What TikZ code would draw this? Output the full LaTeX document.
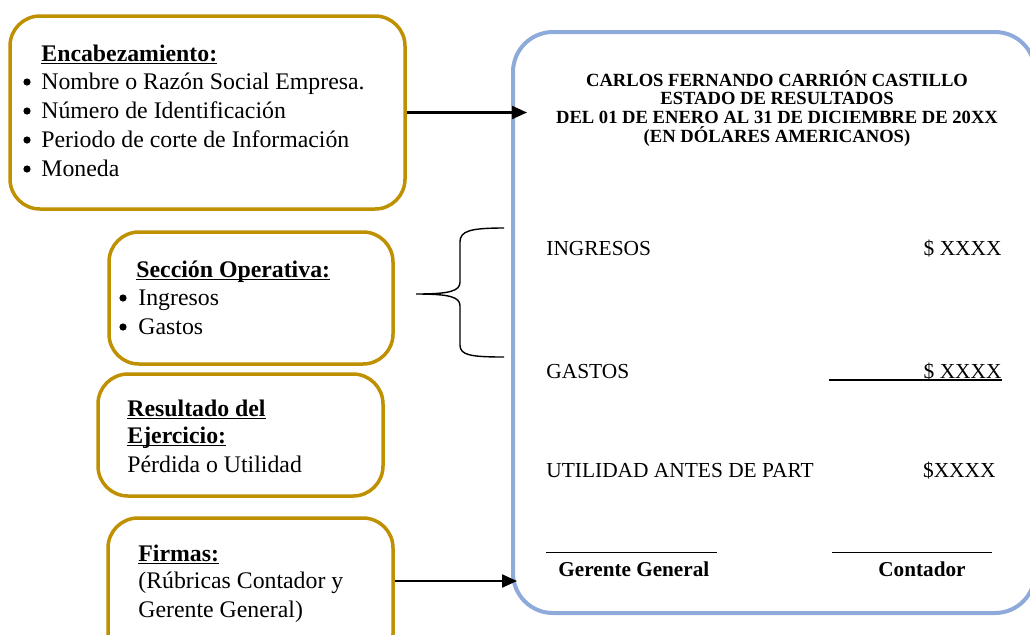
\documentclass[tikz,border=0pt]{standalone}
\usepackage{fontspec}
\setmainfont{Liberation Serif}
\usetikzlibrary{arrows.meta,fit}
\definecolor{gold}{RGB}{191,144,0}
\definecolor{lblue}{RGB}{142,170,219}
\newcommand\myul[1]{\setbox0\hbox{#1}\rlap{\rule[-1.6pt]{\wd0}{0.8pt}}\box0}
\begin{document}
\begin{tikzpicture}[x=0.5pt,y=-0.5pt,
  goldbox/.style={draw=gold,line width=1.75pt,rounded corners=15pt,inner sep=0pt},
  bluebox/.style={draw=lblue,line width=2pt,rounded corners=20pt,inner sep=0pt},
  body/.style={inner sep=0pt,anchor=base west,font=\fontsize{11.9}{14.5}\selectfont},
  bul/.style={circle,fill=black,inner sep=0pt,minimum size=3.6pt},
  head/.style={inner sep=0pt,anchor=base,font=\fontsize{9.3}{9.3}\selectfont\bfseries},
  row/.style={inner sep=0pt,anchor=base west,font=\fontsize{10.7}{12}\selectfont},
  rowr/.style={inner sep=0pt,anchor=base east,font=\fontsize{10.7}{12}\selectfont},
  sig/.style={inner sep=0pt,anchor=base west,font=\fontsize{10.6}{12}\selectfont\bfseries},
  arr/.style={line width=1.1pt,-{Triangle[length=7.5pt,width=6.5pt]}},
  sigline/.style={line width=0.5pt}]
\useasboundingbox (0,0) rectangle (1030,634);

% boxes
\node[goldbox,fit={(10,16) (405,209)}] (enc) {};
\node[goldbox,fit={(109,232) (393,364)}] (sec) {};
\node[goldbox,fit={(98,374) (383,496)}] (res) {};
\node[goldbox,fit={(108,518) (393,664)}] (fir) {};
\node[bluebox,fit={(513,32) (1035,613)}] (er) {};

% box 1 text
\node[body] (e0) at (41,61) {\myul{\bfseries Encabezamiento:}};
\node[bul] (eb1) at (27,82) {};
\node[body] (e1) at (41,89) {Nombre o Razón Social Empresa.};
\node[bul] (eb2) at (27,111) {};
\node[body] (e2) at (41,118) {Número de Identificación};
\node[bul] (eb3) at (27,140) {};
\node[body] (e3) at (41,147) {Periodo de corte de Información};
\node[bul] (eb4) at (27,169) {};
\node[body] (e4) at (41,176) {Moneda};

% box 2 text
\node[body] (s0) at (136,277) {\myul{\bfseries Sección Operativa:}};
\node[bul] (sb1) at (123,298) {};
\node[body] (s1) at (138,305) {Ingresos};
\node[bul] (sb2) at (123,327) {};
\node[body] (s2) at (138,334) {Gastos};

% box 3 text
\node[body] (r0) at (127,416) {\myul{\bfseries Resultado del}};
\node[body] (r1) at (127,443) {\myul{\bfseries Ejercicio:}};
\node[body] (r2) at (127,472) {Pérdida o Utilidad};

% box 4 text
\node[body] (f0) at (138,561) {\myul{\bfseries Firmas:}};
\node[body] (f1) at (138,588) {(Rúbricas Contador y};
\node[body] (f2) at (138,617) {Gerente General)};

% header of statement
\node[head] (h1) at (777,86) {CARLOS FERNANDO CARRIÓN CASTILLO};
\node[head] (h2) at (777,104) {ESTADO DE RESULTADOS};
\node[head] (h3) at (777,123) {DEL 01 DE ENERO AL 31 DE DICIEMBRE DE 20XX};
\node[head] (h4) at (777,142) {(EN DÓLARES AMERICANOS)};

% rows
\node[row] (ing) at (546,255) {INGRESOS};
\node[rowr] (ingv) at (1002,255) {\$ XXXX};
\node[row] (gas) at (546,378) {GASTOS};
\node[rowr] (gasv) at (1002,378) {\$ XXXX};
\draw[line width=0.65pt] ([yshift=-1pt]gasv.base east) -- ++(-173,0);
\node[row] (uti) at (546,477) {UTILIDAD ANTES DE PART};
\node[rowr] (utiv) at (996,477) {\$XXXX};

% signatures
\coordinate (sl1) at (546,552);
\coordinate (sl2) at (717,552);
\coordinate (sr1) at (832,552);
\coordinate (sr2) at (992,552);
\draw[sigline] (sl1) -- (sl2);
\draw[sigline] (sr1) -- (sr2);
\node[sig] (gg) at (558,576) {Gerente General};
\node[sig] (ct) at (878,576) {Contador};

% arrows
\coordinate (t1) at (527,112.5);
\coordinate (t2) at (517,581);
\draw[arr] (enc.east) -- (t1);
\draw[arr] (fir.east |- t2) -- (t2);

% brace
\draw[line width=0.7pt] (504,228) .. controls (470,228) and (460,231) .. (460,242)
  -- (460,282) .. controls (460,291) and (450,294) .. (416,294)
  .. controls (450,294) and (460,297) .. (460,306)
  -- (460,345) .. controls (460,355) and (470,357) .. (504,357);
\end{tikzpicture}
\end{document}
